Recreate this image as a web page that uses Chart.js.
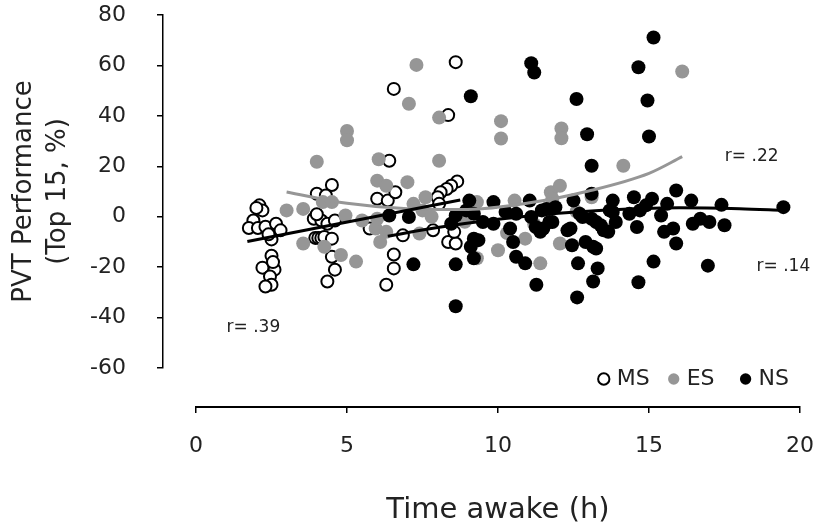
<!DOCTYPE html>
<html lang="en">
<head>
<meta charset="UTF-8">
<title>PVT Performance vs Time awake</title>
<script src="https://cdn.jsdelivr.net/npm/chart.js"></script>
<style>
  html, body { margin: 0; padding: 0; background: #fff; }
  #wrap { width: 823px; height: 528px; }
</style>
</head>
<body>
<div id="wrap"><canvas id="pvtChart"></canvas></div>
<script>
// MS (open circles)
var msX = [2.1, 2.2, 1.9, 1.75, 2.05, 2.3, 2.65, 2.8, 2.5, 2.5, 2.6, 2.2, 2.45, 2.5, 2.3, 2.0, 2.4, 2.55,
           4.5, 4.0, 4.3, 3.9, 4.15, 4.35, 4.6, 3.95, 4.05, 4.15, 4.25, 4.5, 4.5, 4.6, 4.35, 4.0,
           6.4, 6.55, 6.0, 6.35, 6.6, 5.75, 6.55, 6.55, 6.3, 6.85,
           8.6, 8.35, 8.65, 8.45, 8.3, 8.1, 8.0, 8.05, 7.85, 8.35, 8.6, 8.55];
var msY = [4.5, 2.5, -1.5, -4.5, -4.5, -4, -2.8, -5.4, -9, -15.5, -21, -20.2, -23.7, -27, -27.7, 3.5, -7, -18,
           12.6, 9.1, 8.4, -0.8, -1.5, -2.8, -1.5, -8.4, -8.4, -8.4, -8, -8.7, -15.9, -21, -25.7, 1,
           22.2, 50.7, 7.1, 6.4, 9.7, -4.7, -15, -20.5, -27, -7.4,
           61.3, 40.3, 14, 12.3, 11, 9.7, 7.7, 5.1, -5.4, -10, -10.6, -6];

// ES (grey)
var esX = [3.0, 3.55, 3.55, 4.0, 4.25, 4.8, 5.3, 4.2, 4.5, 4.95, 5.5, 6.0, 6.3, 7.0, 5.95, 6.3, 6.05,
           7.3, 7.05, 8.05, 5.0, 5.0, 10.1, 10.1, 8.05, 16.1, 12.1, 12.1, 14.15, 7.5, 7.4, 7.2, 6.1,
           7.6, 7.8, 9.3, 10.55, 10.0, 10.9, 11.75, 11.4, 9.3, 12.05, 11.8, 12.05, 13.1, 13.65,
           6.0, 8.9, 10.3, 11.2, 12.6];
var esY = [2.5, 3.1, -10.6, 21.8, -11.9, -15.2, -17.8, 5.8, 5.8, 0.5, -1.5, 14.3, 12.3, 13.7, -4.7, -6, 22.8,
           60.2, 44.8, 39.3, 34, 30.3, 37.9, 31, 22.2, 57.6, 35, 31.1, 20.2, 2.5, -6.7, 5.1, -10,
           7.7, 0, 5.8, 6.4, -13.3, -8.7, 9.7, -18.5, -16.5, 12.3, 7.1, -10.6, 7.7, -5.4,
           -0.8, -2, -6.5, -3, 2];

// NS (black)
var nsX = [15.15, 11.1, 11.2, 14.65, 12.6, 14.95, 12.95, 15.0, 13.1, 9.1,
           8.6, 11.27, 12.62, 14.65, 7.2, 8.6, 13.15, 13.3, 12.65, 12.45,
           12.9, 13.25, 10.6, 10.9, 10.5, 9.1, 9.2, 7.05, 9.05, 9.85,
           11.05, 11.6, 12.5, 13.1, 13.8, 8.45, 8.6, 8.95, 9.5, 9.85,
           10.25, 10.6, 11.25, 10.4, 11.5, 11.8, 12.3, 12.8, 13.25, 13.5,
           13.8, 9.2, 6.4, 9.2, 11.1, 11.45, 11.4, 9.35, 11.9, 14.5,
           15.1, 15.6, 14.9, 12.7, 13.1, 13.7, 14.35, 14.7, 15.4, 13.9,
           13.4, 13.65, 14.6, 15.5, 15.8, 12.4, 13.15, 11.7, 15.9, 15.9,
           16.4, 17.4, 19.45, 16.45, 16.7, 17.0, 17.5, 15.15, 16.95];
var nsY = [71.1, 60.9, 57.2, 59.3, 46.7, 46.1, 32.7, 31.8, 20.2, 47.8,
           -35.5, -27, -32, -26, -18.9, -18.9, -25.7, -20.5, -18.5, -11.3,
           -10, -12.6, -15.9, -18.5, -10, -11.9, -16.5, -0.1, 6.4, 5.8,
           6.4, 3.1, 6.4, 9.1, 6.4, -2.8, 0.5, 2.5, -2.1, -2.8,
           1.9, 1.2, -4.1, -4.7, -4.7, -2.1, -5.4, -0.1, -2.1, -5.4,
           1.9, -8.7, 0.5, 1.2, -0.1, 2.5, -6, -9.3, 3.8, 7.7,
           7.1, 5.1, 4.5, 1.2, -0.8, 2.5, 1.2, 2.5, 0.5, -2.1,
           -3.4, -6, -4.1, -6, -4.7, -4.7, -11.9, -2.1, -10.6, 10.4,
           6.4, 4.7, 3.8, -2.8, -0.8, -2.1, -3.4, -17.8, -19.4];

// trend lines
var msTrendX = [1.7, 8.75];
var msTrendY = [-9.8, 6.6];
var esTrendX = [3.0, 5, 7, 9, 11, 13, 15, 16.1];
var esTrendY = [9.8, 5.3, 3.2, 2.9, 5.4, 10.2, 17.2, 23.8];
var nsTrendX = [6.35, 8, 10, 12, 14, 16, 18, 19.45];
var nsTrendY = [-7.7, -4.3, -1.0, 1.4, 2.9, 3.6, 3.2, 2.5];

var xTicks = [0, 5, 10, 15, 20];
var yTicks = [-60, -40, -20, 0, 20, 40, 60, 80];

var rNotes = [
  { text: "r= .39", x: 1.9, y: -44 },
  { text: "r= .22", x: 18.4, y: 24 },
  { text: "r= .14", x: 19.45, y: -19.7 }
];

function pts(xs, ys) {
  return xs.map(function (x, i) { return { x: x, y: ys[i] }; });
}

var FONT = "DejaVu Sans";
var INK = "#222";
var GREY = "#969696";
Chart.defaults.font.family = FONT;
Chart.defaults.color = INK;

// draws the r= labels at data positions
var rLabels = {
  id: "rLabels",
  afterDatasetsDraw: function (chart) {
    var ctx = chart.ctx;
    var xs = chart.scales.x, ys = chart.scales.y;
    ctx.save();
    ctx.font = "17px '" + FONT + "'";
    ctx.fillStyle = INK;
    ctx.textAlign = "center";
    ctx.textBaseline = "middle";
    rNotes.forEach(function (n) {
      ctx.fillText(n.text, xs.getPixelForValue(n.x), ys.getPixelForValue(n.y));
    });
    ctx.restore();
  }
};

// legend gaps between the three entries
var legendGap = ["\u2002\u2002", "\u2002\u2002 ", "\u2002"];

var ctx = document.getElementById("pvtChart").getContext("2d");
var chart = new Chart(ctx, {
  type: "scatter",
  data: {
    datasets: [
      { label: "MS", data: pts(msX, msY), order: 5, pointStyle: "circle",
        backgroundColor: "#fff", borderColor: "#000", borderWidth: 2, pointRadius: 6 },
      { label: "ES", data: pts(esX, esY), order: 4, pointStyle: "circle",
        backgroundColor: GREY, borderColor: GREY, borderWidth: 0, pointRadius: 7 },
      { label: "NS", data: pts(nsX, nsY), order: 3, pointStyle: "circle",
        backgroundColor: "#000", borderColor: "#000", borderWidth: 0, pointRadius: 7 },
      { label: "MS fit", data: pts(msTrendX, msTrendY), order: 1, showLine: true,
        borderColor: "#000", borderWidth: 3, pointRadius: 0 },
      { label: "ES fit", data: pts(esTrendX, esTrendY), order: 2, showLine: true,
        borderColor: GREY, borderWidth: 3, pointRadius: 0, cubicInterpolationMode: "monotone" },
      { label: "NS fit", data: pts(nsTrendX, nsTrendY), order: 1, showLine: true,
        borderColor: "#000", borderWidth: 3, pointRadius: 0, cubicInterpolationMode: "monotone" }
    ]
  },
  options: {
    responsive: true,
    maintainAspectRatio: false,
    animation: false,
    layout: { padding: { top: 15, right: 23, bottom: 0, left: 4 } },
    plugins: {
      tooltip: { enabled: false },
      legend: {
        position: "bottom",
        align: "end",
        fullSize: false,
        weight: 1,
        labels: {
          usePointStyle: true,
          boxWidth: 4,
          boxHeight: 8,
          padding: 0,
          color: INK,
          font: { size: 22 },
          generateLabels: function (chart) {
            var items = Chart.defaults.plugins.legend.labels.generateLabels(chart);
            items = items.filter(function (it) { return it.datasetIndex < 3; });
            items.sort(function (a, b) { return a.datasetIndex - b.datasetIndex; });
            items.forEach(function (it, i) { it.text += legendGap[i]; });
            return items;
          }
        }
      }
    },
    scales: {
      x: {
        type: "linear", position: "bottom", weight: 3,
        min: 0, max: 20,
        afterBuildTicks: function (s) { s.ticks = xTicks.map(function (v) { return { value: v }; }); },
        ticks: { padding: 20, color: INK, font: { size: 22 } },
        grid: { drawOnChartArea: false, drawTicks: true, tickLength: 6, color: "#000", lineWidth: 1.5 },
        border: { display: true, color: "#000", width: 2 },
        title: { display: true, text: "Time awake (h)", color: INK,
                 font: { size: 29, lineHeight: 1.2 }, padding: { top: 0, bottom: 0 } },
        afterFit: function (s) { s.height = 121; s.paddingLeft = 0; s.paddingRight = 0; }
      },
      xGap: {
        type: "linear", position: "bottom", weight: 2,
        grid: { display: false }, border: { display: false }, ticks: { display: false },
        afterFit: function (s) { s.height = 7; s.paddingLeft = 0; s.paddingRight = 0; }
      },
      y: {
        type: "linear", position: "left", weight: 3,
        min: -60, max: 80,
        afterBuildTicks: function (s) { s.ticks = yTicks.map(function (v) { return { value: v }; }); },
        ticks: { padding: 31, color: INK, font: { size: 22 } },
        grid: { drawOnChartArea: false, drawTicks: true, tickLength: 6, color: "#000", lineWidth: 1.5 },
        border: { display: true, color: "#000", width: 1.5 },
        title: { display: true, text: ["PVT Performance", "(Top 15, %)"], color: INK,
                 font: { size: 26, lineHeight: 1.28 }, padding: { top: 4, bottom: 0 } },
        afterFit: function (s) { s.width = 159; s.paddingTop = 0; s.paddingBottom = 0; }
      },
      yGap: {
        type: "linear", position: "left", weight: 1,
        grid: { display: false }, border: { display: false }, ticks: { display: false },
        afterFit: function (s) { s.width = 33; s.paddingTop = 0; s.paddingBottom = 0; }
      }
    }
  },
  plugins: [rLabels]
});
</script>
</body>
</html>
